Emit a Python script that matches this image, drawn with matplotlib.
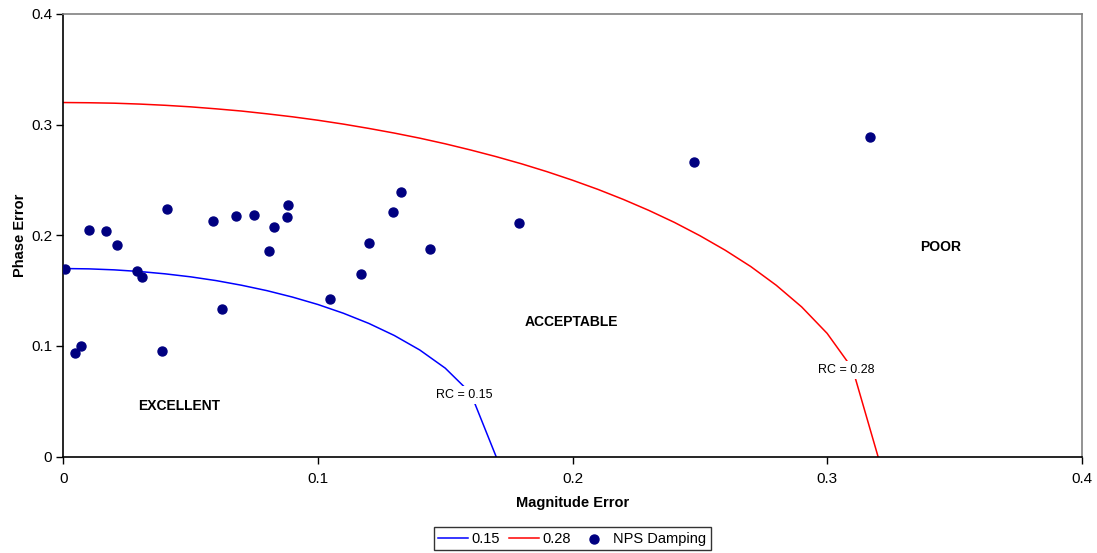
import matplotlib
matplotlib.use('Agg')
import matplotlib.pyplot as plt

plt.rcParams['font.family'] = ['Liberation Sans', 'DejaVu Sans']

# RC = 0.15 boundary
rc15_x = [0.00, 0.01, 0.02, 0.03, 0.04, 0.05, 0.06, 0.07, 0.08, 0.09,
          0.10, 0.11, 0.12, 0.13, 0.14, 0.15, 0.16, 0.17]
rc15_y = [0.170, 0.1697, 0.1688, 0.1673, 0.1652, 0.1625, 0.1591, 0.1549, 0.1500, 0.1442,
          0.1375, 0.1296, 0.1204, 0.1095, 0.0964, 0.0800, 0.0574, 0.0]

# RC = 0.28 boundary
rc28_x = [0.00, 0.01, 0.02, 0.03, 0.04, 0.05, 0.06, 0.07, 0.08, 0.09, 0.10,
          0.11, 0.12, 0.13, 0.14, 0.15, 0.16, 0.17, 0.18, 0.19, 0.20,
          0.21, 0.22, 0.23, 0.24, 0.25, 0.26, 0.27, 0.28, 0.29, 0.30, 0.31, 0.32]
rc28_y = [0.320, 0.3198, 0.3194, 0.3186, 0.3175, 0.3161, 0.3143, 0.3123, 0.3098, 0.3071, 0.3040,
          0.3005, 0.2966, 0.2924, 0.2878, 0.2827, 0.2771, 0.2711, 0.2646, 0.2575, 0.2498,
          0.2415, 0.2324, 0.2225, 0.2117, 0.1997, 0.1865, 0.1718, 0.1549, 0.1353, 0.1114, 0.0794, 0.0]

# NPS damping measurements
nps_mag = [0.0007, 0.0045, 0.0068, 0.0101, 0.0168, 0.0212, 0.0288, 0.0310, 0.0388,
           0.0408, 0.0588, 0.0625, 0.0677, 0.0750, 0.0808, 0.0826, 0.0881, 0.0877,
           0.1048, 0.1168, 0.1200, 0.1296, 0.1325, 0.1440, 0.1791, 0.2476, 0.3168]
nps_phase = [0.1693, 0.0934, 0.1003, 0.2048, 0.2039, 0.1916, 0.1678, 0.1624, 0.0955,
             0.2241, 0.2127, 0.1337, 0.2178, 0.2187, 0.1861, 0.2073, 0.2274, 0.2166,
             0.1422, 0.1648, 0.1934, 0.2214, 0.2392, 0.1877, 0.2114, 0.2660, 0.2891]

ticks = [0, 0.1, 0.2, 0.3, 0.4]
tick_labels = ['0', '0.1', '0.2', '0.3', '0.4']

fig = plt.figure(figsize=(10.97, 5.53), dpi=100)
ax = fig.add_axes([0.0577, 0.1742, 0.9284, 0.8005])

l15, = ax.plot(rc15_x, rc15_y, color='#0000ff', lw=1.1, label='0.15')
l28, = ax.plot(rc28_x, rc28_y, color='#ff0000', lw=1.1, label='0.28')
pts = ax.scatter(nps_mag, nps_phase, s=42, color='#000080', zorder=3, label='NPS Damping')

ax.set_xlim(0, 0.4)
ax.set_ylim(0, 0.4)
ax.set_xticks(ticks)
ax.set_xticklabels(tick_labels)
ax.set_yticks(ticks)
ax.set_yticklabels(tick_labels)
ax.tick_params(direction='out', length=5, width=1, labelsize=11)
ax.tick_params(axis='x', pad=6)
ax.tick_params(axis='y', pad=3)

for side in ['top', 'right']:
    ax.spines[side].set_color('#808080')
    ax.spines[side].set_linewidth(1.2)
for side in ['left', 'bottom']:
    ax.spines[side].set_linewidth(1.2)

ax.set_xlabel('Magnitude Error', fontsize=10.5, fontweight='bold', labelpad=7)
ax.set_ylabel('Phase Error', fontsize=10.5, fontweight='bold', labelpad=3)

# region labels
ax.text(0.0455, 0.0458, 'EXCELLENT', fontsize=10, fontweight='bold', ha='center', va='center')
ax.text(0.1995, 0.1216, 'ACCEPTABLE', fontsize=10, fontweight='bold', ha='center', va='center')
ax.text(0.3447, 0.1897, 'POOR', fontsize=10, fontweight='bold', ha='center', va='center')

box = dict(facecolor='white', edgecolor='none', pad=2)
ax.text(0.1574, 0.0557, 'RC = 0.15', fontsize=9, ha='center', va='center', bbox=box, zorder=4)
ax.text(0.3077, 0.0783, 'RC = 0.28', fontsize=9, ha='center', va='center', bbox=box, zorder=4)

leg = fig.legend(handles=[l15, l28, pts], loc='lower center', bbox_to_anchor=(0.5215, 3 / 553),
                 borderaxespad=0, ncol=3, fontsize=10.5, frameon=True, fancybox=False,
                 handlelength=2.05, handletextpad=0.25, columnspacing=0.6, borderpad=0.3,
                 scatterpoints=1)
leg.get_frame().set_edgecolor('black')
leg.get_frame().set_linewidth(1.0)

fig.savefig('out.png', dpi=100)
